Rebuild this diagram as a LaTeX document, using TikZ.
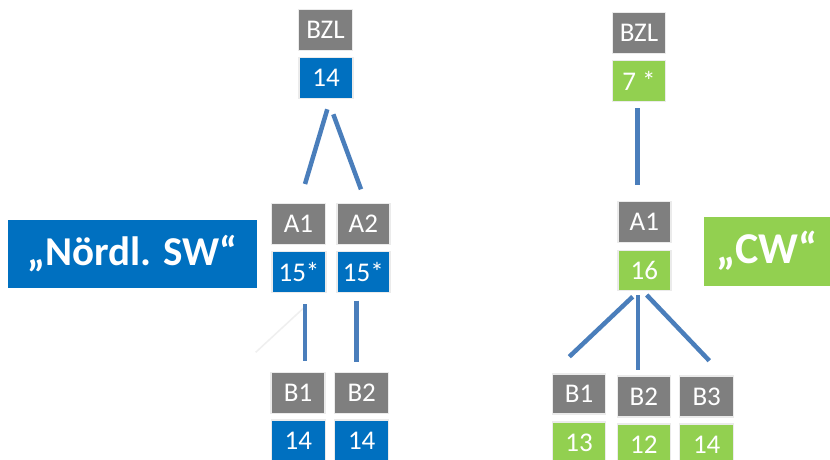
\documentclass[tikz,border=0pt]{standalone}
\usepackage{fontspec}
\setmainfont{Carlito}
\definecolor{boxgray}{HTML}{7F7F7F}
\definecolor{boxblue}{HTML}{0070C0}
\definecolor{boxgreen}{HTML}{92D050}
\definecolor{linkblue}{HTML}{4A7EBB}
\definecolor{boxedge}{HTML}{EBEBEB}
\definecolor{faintline}{HTML}{EFEFEF}
\tikzset{
  cell/.style={minimum width=54, minimum height=41, inner sep=0, text=white,
    font=\fontsize{27}{27}\selectfont, draw=boxedge, line width=1.5},
  graycell/.style={cell, fill=boxgray},
  bluecell/.style={cell, fill=boxblue},
  greencell/.style={cell, fill=boxgreen},
  tag/.style={inner sep=0, text=white, font=\fontsize{41}{41}\selectfont\bfseries},
  link/.style={draw=linkblue, line width=4.5},
  faintlink/.style={draw=faintline, line width=1.5}
}
\begin{document}
\begin{tikzpicture}[x=1pt,y=-1pt]
\useasboundingbox (0,0) rectangle (830,460);
\fill[white] (0,0) rectangle (830,460);

% left tree
\node[graycell] (bzlLg) at (325.5,30) {BZL};
\node[bluecell] (bzlLv) at (326,78) {14};
\node[graycell] (a1Lg) at (298.5,224) {A1};
\node[bluecell] (a1Lv) at (299,272) {15*};
\node[graycell, minimum width=53] (a2Lg) at (363.3,224) {A2};
\node[bluecell, minimum width=53] (a2Lv) at (363.3,272) {15*};
\node[graycell] (b1Lg) at (298,393) {B1};
\node[bluecell] (b1Lv) at (298.3,440.5) {14};
\node[graycell] (b2Lg) at (361.7,393) {B2};
\node[bluecell] (b2Lv) at (361.7,440.5) {14};
\node[tag, fill=boxblue, minimum width=249, minimum height=68] (nsw) at (132.5,254) {„Nördl. SW“};

\coordinate (l1s) at (327.3,109.3);
\coordinate (l1e) at (305,184);
\coordinate (l2s) at (333.3,114.3);
\coordinate (l2e) at (361,189.3);
\coordinate (l3s) at (305,304);
\coordinate (l3e) at (305,361);
\coordinate (fs) at (303.3,308.3);
\coordinate (fe) at (255.7,352.3);
\coordinate (l4s) at (356.7,300.7);
\coordinate (l4e) at (356.7,361.7);
\draw[link] (l1s) -- (l1e);
\draw[link] (l2s) -- (l2e);
\draw[faintlink] (fs) -- (fe);
\draw[link] (l3s) -- (l3e);
\draw[link] (l4s) -- (l4e);

% right tree
\node[graycell, minimum width=53] (bzlRg) at (639,33) {BZL};
\node[greencell, minimum width=53] (bzlRv) at (639,81) {7 *};
\node[graycell, minimum width=53] (a1Rg) at (644.3,222) {A1};
\node[greencell, minimum width=53, minimum height=40] (a1Rv) at (644.3,270.7) {16};
\node[tag, fill=boxgreen, minimum width=126, minimum height=69, font=\fontsize{44}{44}\selectfont\bfseries] (cw) at (767,251) {„CW“};
\node[graycell, minimum width=53, minimum height=40] (b1Rg) at (579,394) {B1};
\node[greencell, minimum width=53] (b1Rv) at (579,442.5) {13};
\node[graycell, minimum width=53] (b2Rg) at (643.8,396.7) {B2};
\node[greencell, minimum width=53] (b2Rv) at (643.8,444.5) {12};
\node[graycell, minimum width=54] (b3Rg) at (706.7,396.7) {B3};
\node[greencell, minimum width=54] (b3Rv) at (706.7,444.5) {14};

\coordinate (r1s) at (637.7,108.3);
\coordinate (r1e) at (637.7,185);
\coordinate (r2s) at (632.7,296.7);
\coordinate (r2e) at (569.3,356.7);
\coordinate (r3s) at (638,295);
\coordinate (r3e) at (638,370);
\coordinate (r4s) at (646.7,295);
\coordinate (r4e) at (709.3,360.7);
\draw[link] (r1s) -- (r1e);
\draw[link] (r2s) -- (r2e);
\draw[link] (r3s) -- (r3e);
\draw[link] (r4s) -- (r4e);
\end{tikzpicture}
\end{document}
